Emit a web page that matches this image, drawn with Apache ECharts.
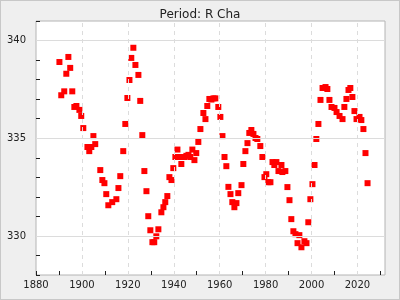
<!DOCTYPE html>
<html>
<head>
<meta charset="utf-8">
<script src="https://cdn.jsdelivr.net/npm/echarts@6/dist/echarts.min.js"></script>
<style>
html,body{margin:0;padding:0;background:#efefef;}
#c{width:400px;height:300px;box-sizing:border-box;border:1px solid #c8c8c8;}
</style>
</head>
<body>
<div id="c"></div>
<script>
const years = [
1890.2,1891.0,1892.3,1893.2,1894.1,1894.9,1895.8,1896.7,1897.6,1898.9,1899.7,1900.6,1902.4,1903.2,1904.1,1905.0,1905.8,
1908.0,1908.9,1909.8,1910.6,1911.5,1913.2,1915.0,1915.9,1916.7,1918.0,1918.9,1919.8,1920.7,1921.5,1922.4,1923.3,1924.6,
1925.4,1926.3,1927.2,1928.1,1928.9,1929.8,1930.7,1931.5,1932.4,1933.3,1934.6,1935.5,1936.3,1937.2,1938.1,1939.0,1939.8,
1940.7,1941.5,1941.6,1942.4,1943.3,1944.6,1945.5,1946.4,1947.2,1948.1,1949.0,1949.8,1950.7,1951.6,1952.9,1953.8,1954.6,
1955.5,1956.4,1957.3,1958.1,1959.4,1960.3,1961.2,1962.1,1962.9,1963.8,1964.7,1965.5,1966.4,1967.3,1968.1,1969.5,1970.3,
1971.2,1972.1,1972.9,1973.8,1974.7,1975.6,1976.4,1977.7,1978.6,1979.5,1980.3,1981.2,1982.1,1983.0,1983.8,1984.7,1985.6,
1986.9,1987.3,1988.6,1989.5,1990.4,1991.2,1992.1,1993.0,1993.9,1994.7,1995.6,1996.9,1997.8,1998.6,1999.5,2000.4,2001.3,
2002.1,2003.0,2003.9,2004.8,2006.1,2006.9,2007.8,2008.7,2010.0,2010.9,2012.2,2013.5,2014.3,2015.2,2016.1,2016.9,2017.8,
2018.7,2019.6,2020.9,2021.7,2022.6,2023.5,2024.4
];
const periods = [
338.9,337.2,337.4,338.3,339.16,338.6,337.4,336.6,336.65,336.45,336.14,335.52,334.55,334.34,334.55,335.11,334.7,
333.37,332.86,332.70,332.14,331.57,331.73,331.88,332.45,333.06,334.34,335.73,337.06,337.98,339.11,339.63,338.75,338.24,
336.91,335.16,333.32,332.29,331.01,330.29,329.68,329.68,329.98,330.34,331.21,331.47,331.73,332.04,333.01,332.86,333.47,
334.04,334.04,334.42,334.04,333.68,334.04,334.1,334.15,334.04,334.42,333.88,334.24,334.81,335.47,336.29,335.98,336.65,
337.01,336.98,337.04,337.04,336.6,336.09,335.11,334.04,333.57,332.51,332.14,331.73,331.47,331.68,332.19,332.6,333.68,
334.34,334.75,335.27,335.42,335.22,335.01,334.96,334.6,334.04,333.01,333.16,332.75,332.75,333.78,333.63,333.78,333.32,
333.63,333.27,333.32,332.5,331.83,330.86,330.24,330.09,329.63,330.04,329.42,329.73,329.63,330.7,331.88,332.65,333.63,
334.96,335.73,336.96,337.57,337.62,337.52,336.96,336.6,336.55,336.34,336.14,335.98,336.6,337.01,337.47,337.57,337.11,
336.39,335.98,336.09,335.93,335.47,334.24,332.7
];
const xMajorTicks = [1900,1920,1940,1960,1980,2000,2020];
const yMajorTicks = [330,335,340];

const chart = echarts.init(document.getElementById('c'), null, {renderer:'canvas'});
const font = 'DejaVu Sans';
const gridLines = [];
yMajorTicks.forEach(v => gridLines.push({yAxis: v, lineStyle:{type:'solid', color:'#dcdcdc', width:1}}));
xMajorTicks.forEach(v => gridLines.push({xAxis: v, lineStyle:{type:[4,4], color:'#dcdcdc', width:1}}));

chart.setOption({
  animation: false,
  backgroundColor: '#efefef',
  title: {
    text: 'Period: R Cha', left: 'center', top: 3,
    textStyle: {fontFamily: font, fontSize: 12, fontWeight: 'normal', color: '#222'}
  },
  grid: {left: 35, right: 14, top: 20, bottom: 24, show: true, backgroundColor: '#ffffff', borderColor: '#b4b4b4', borderWidth: 1},
  xAxis: {
    type: 'value', min: 1880, max: 2032, interval: 10,
    axisLine: {show: false},
    axisTick: {show: true, inside: true, length: 4, lineStyle: {color: '#222'}},
    axisLabel: {fontFamily: font, fontSize: 10, color: '#222', margin: 5, showMaxLabel: false,
      formatter: v => (v % 20 === 0 && v <= 2020) ? String(v) : ''},
    splitLine: {show: false}
  },
  yAxis: {
    type: 'value', min: 328, max: 341, interval: 1,
    axisLine: {show: false},
    axisTick: {show: true, inside: true, length: 4, lineStyle: {color: '#222'}},
    axisLabel: {fontFamily: font, fontSize: 10, color: '#222', margin: 10,
      formatter: v => (v % 5 === 0) ? String(v) : ''},
    splitLine: {show: false}
  },
  series: [
    {
      type: 'scatter', data: [], z: 1, silent: true,
      markLine: {silent: true, symbol: 'none', label: {show: false}, animation: false, data: gridLines}
    },
    {
      type: 'scatter', z: 3,
      symbol: 'rect', symbolSize: 6,
      itemStyle: {color: '#ff0000', opacity: 1},
      data: years.map((y, i) => [y, periods[i]])
    }
  ]
});
</script>
</body>
</html>
